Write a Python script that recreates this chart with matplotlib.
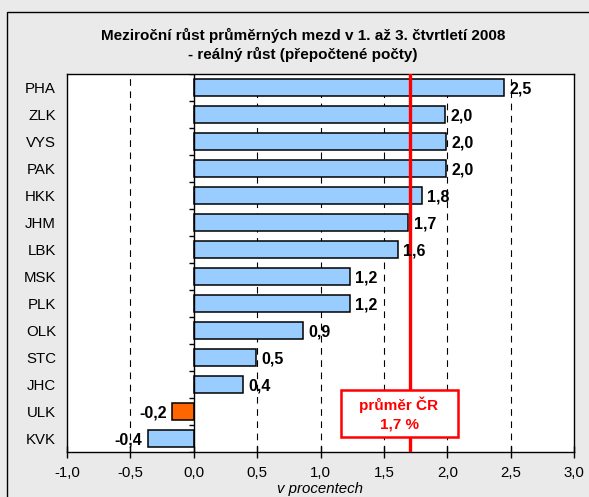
import numpy as np
import matplotlib
matplotlib.use("Agg")
import matplotlib.pyplot as plt
from matplotlib.patches import Rectangle
from matplotlib.ticker import FuncFormatter

plt.rcParams['font.family'] = ['Liberation Sans', 'DejaVu Sans']

regions = ["PHA", "ZLK", "VYS", "PAK", "HKK", "JHM", "LBK",
           "MSK", "PLK", "OLK", "STC", "JHC", "ULK", "KVK"]
growth = [2.45, 1.98, 1.99, 1.99, 1.80, 1.69, 1.61,
          1.23, 1.23, 0.86, 0.49, 0.39, -0.17, -0.36]
highlight = "ULK"
cr_average = 1.71
cr_label = "průměr ČR\n1,7 %"
title = "Meziroční růst průměrných mezd v 1. až 3. čtvrtletí 2008\n- reálný růst (přepočtené počty)"

def cz(v, pos=None):
    return f"{v:.1f}".replace(".", ",")

fig = plt.figure(figsize=(5.89, 4.97), dpi=100)
fig.patch.set_facecolor("#eaeaea")
# outer frame (cut at right and bottom like the original)
fig.add_artist(Rectangle((7 / 589, -0.05), 1.0, 1 - 12 / 497 + 0.05,
                         transform=fig.transFigure, fill=False,
                         edgecolor="black", linewidth=1.0))

ax = fig.add_axes([67 / 589, 1 - 452 / 497, 507 / 589, 378 / 497])
ax.set_facecolor("white")

y = np.arange(len(regions))
colors = ["#ff6600" if r == highlight else "#99ccff" for r in regions]
ax.barh(y, growth, height=0.6, color=colors, edgecolor="black", linewidth=1.1, zorder=3)

for yi, v in zip(y, growth):
    if v >= 0:
        ax.annotate(cz(v), (v, yi), xytext=(4, -1), textcoords="offset points",
                    ha="left", va="center", fontsize=11.5, fontweight="bold", zorder=5)
    else:
        ax.annotate(cz(v), (v, yi), xytext=(-4, -1), textcoords="offset points",
                    ha="right", va="center", fontsize=11.5, fontweight="bold", zorder=5)

ax.set_xlim(-1, 3)
ax.set_ylim(len(regions) - 0.5, -0.5)
ax.set_xticks(np.arange(-1, 3.01, 0.5))
ax.xaxis.set_major_formatter(FuncFormatter(cz))
ax.set_yticks(y)
ax.set_yticklabels(regions)
ax.tick_params(axis="y", length=0, pad=8, labelsize=10.8)
ax.tick_params(axis="x", direction="inout", length=8, width=1, pad=6, labelsize=10.8)

for g in np.arange(-0.5, 2.51, 0.5):
    if abs(g) > 1e-9:
        ax.axvline(g, color="black", linestyle=(0, (6, 5)), linewidth=0.8, zorder=1)

# category axis crossing at zero with its own tick marks
ax.axvline(0, color="black", linewidth=1.0, zorder=4)
bounds = np.arange(len(regions) + 1) - 0.5
ax.hlines(bounds, -0.035, 0, color="black", linewidth=1.0, zorder=4)

ax.axvline(cr_average, color="#ff0000", linewidth=2.4, zorder=4)

# average label box
fig.add_artist(Rectangle((341 / 589, 1 - 437 / 497), 117 / 589, 47 / 497,
                         transform=fig.transFigure, facecolor="white",
                         edgecolor="#ff0000", linewidth=1.8, zorder=6))
fig.text(399 / 589, 1 - 414 / 497, cr_label, ha="center", va="center",
         color="#ff0000", fontsize=11, fontweight="bold", linespacing=1.45, zorder=7)

for s in ax.spines.values():
    s.set_linewidth(1.0)

fig.text(303 / 589, 1 - 45 / 497, title, ha="center", va="center",
         fontsize=11, fontweight="bold", linespacing=1.35)
fig.text(320 / 589, 1 - 489 / 497, "v procentech", ha="center", va="center",
         fontsize=10.8, fontstyle="italic")

fig.savefig("out.png", dpi=100, facecolor=fig.get_facecolor())
